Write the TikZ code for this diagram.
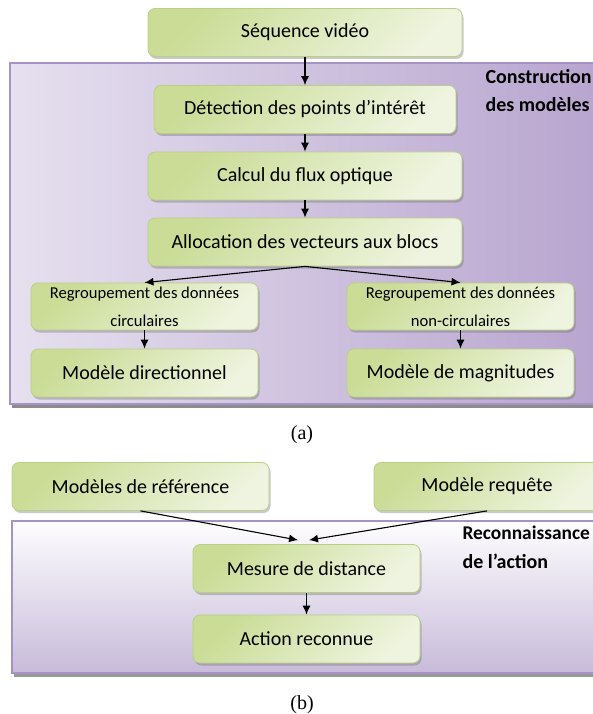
\documentclass[tikz,border=0pt]{standalone}
\usepackage{fontspec}
\setmainfont{Carlito}
\newfontfamily\capfont{Liberation Serif}
\usetikzlibrary{arrows.meta,shadows}

\definecolor{boxA}{HTML}{CADC96}
\definecolor{boxB}{HTML}{EEF4DF}
\definecolor{boxedge}{HTML}{B9CF86}
\definecolor{cadreA}{HTML}{E6E0EF}
\definecolor{cadreB}{HTML}{B8A5CF}
\definecolor{cadreC}{HTML}{C8BBDA}
\definecolor{cadreedge}{HTML}{A692C4}

\begin{document}
\begin{tikzpicture}[x=1pt,y=-1pt,
  etape/.style={draw=boxedge,line width=0.8pt,rounded corners=7pt,
    top color=boxA,bottom color=boxB,shading angle=45,
    drop shadow={shadow xshift=1.5pt,shadow yshift=-2.5pt,opacity=0.35,fill=black!60},
    minimum height=48pt,inner sep=0pt,font=\fontsize{20}{24}\selectfont},
  petite/.style={etape,font=\fontsize{16.6}{28}\selectfont,align=center},
  fleche/.style={-{Latex[length=9pt,width=8pt]},line width=1.1pt},
  titre/.style={font=\bfseries\fontsize{20}{24}\selectfont,anchor=west},
  legende/.style={font=\capfont\fontsize{20}{24}\selectfont}]
\useasboundingbox (0,0) rectangle (592,714);
% frames
\fill[black!45] (12,67) rectangle (600,408);
\draw[cadreedge,line width=1.5pt,left color=cadreA,right color=cadreB] (10,63) rectangle (600,404);
\fill[black!40] (14,525) rectangle (600,677);
\draw[cadreedge,line width=1.5pt,top color=white!97!cadreC,bottom color=cadreC] (12,521) rectangle (600,673);
% (a)
\node[etape,minimum width=314pt] (seq) at (305,32.5) {Séquence vidéo};
\node[etape,minimum width=302pt] (det) at (305,109.5) {Détection des points d’intérêt};
\node[etape,minimum width=314pt] (calc) at (305,176) {Calcul du flux optique};
\node[etape,minimum width=314pt] (alloc) at (305,242) {Allocation des vecteurs aux blocs};
\node[petite,minimum width=227pt,minimum height=47pt] (regc) at (144.5,306.5) {Regroupement des données\\circulaires};
\node[petite,minimum width=227pt,minimum height=47pt] (regn) at (460.5,306.5) {Regroupement des données\\non-circulaires};
\node[etape,minimum width=227pt] (mdir) at (144.5,373) {Modèle directionnel};
\node[etape,minimum width=227pt] (mmag) at (460.5,373) {Modèle de magnitudes};
\node[titre] (tconst) at (482,77) {Construction};
\node[titre] (tmod) at (482,105) {des modèles};
\node[legende] (capa) at (302,435) {(a)};
% (b)
\node[etape,minimum width=257pt] (mref) at (140.5,486.5) {Modèles de référence};
\node[etape,minimum width=226pt] (mreq) at (487,486.5) {Modèle requête};
\node[etape,minimum width=227pt] (mes) at (306.5,568.5) {Mesure de distance};
\node[etape,minimum width=227pt] (act) at (306.5,639) {Action reconnue};
\node[titre,font=\bfseries\fontsize{19.4}{24}\selectfont] (treco) at (459,533) {Reconnaissance};
\node[titre] (tact) at (459,561) {de l’action};
\node[legende] (capb) at (302,705) {(b)};
% arrows
\foreach \a/\b in {seq/det,det/calc,calc/alloc,regc/mdir,regn/mmag,mes/act}
  \draw[fleche] (\a.south) -- (\b.north);
\draw[fleche] (alloc.south) -- (regc.north);
\draw[fleche] (alloc.south) -- (regn.north);
\draw[fleche] (mref.south) -- ([xshift=-8.5pt,yshift=4pt]mes.north);
\draw[fleche] (mreq.south) -- ([xshift=2.5pt,yshift=4pt]mes.north);
\end{tikzpicture}
\end{document}
